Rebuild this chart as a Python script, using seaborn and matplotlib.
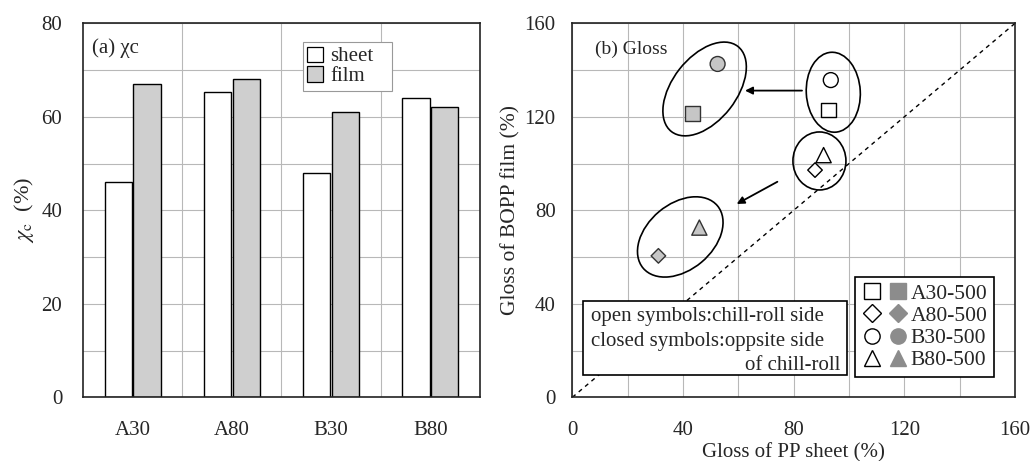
import matplotlib
matplotlib.use('Agg')
import matplotlib.pyplot as plt
from matplotlib.lines import Line2D
from matplotlib.patches import Ellipse, Rectangle, Patch
from matplotlib.transforms import IdentityTransform
from matplotlib.legend_handler import HandlerTuple
import pandas as pd
import seaborn as sns

# (a) crystallinity of sheet and film
grades = ['A30', 'A80', 'B30', 'B80']
sheet_xc = [46.1, 65.2, 48.0, 64.1]
film_xc = [67.0, 68.1, 61.1, 62.1]

# (b) gloss, open = chill-roll side, closed = opposite side
samples = ['A30-500', 'A80-500', 'B30-500', 'B80-500']
sheet_gloss_open = [92.5, 87.7, 93.4, 90.8]
film_gloss_open = [122.9, 97.2, 135.7, 103.6]
sheet_gloss_closed = [43.5, 31.1, 52.5, 45.9]
film_gloss_closed = [121.5, 60.5, 142.6, 72.6]

sns.set_style('white')
plt.rcParams['font.family'] = ['Liberation Serif', 'DejaVu Serif']
plt.rcParams['mathtext.fontset'] = 'stix'

grid_color = '#b8b8b8'
fs = 15

fig = plt.figure(figsize=(10.32, 4.61), dpi=100)
ax1 = fig.add_axes([0.0804, 0.1382, 0.3847, 0.8113])
ax2 = fig.add_axes([0.5546, 0.1382, 0.4290, 0.8113])

# ---- left panel: bars
df_bar = pd.DataFrame({
    'grade': grades * 2,
    'type': ['sheet'] * len(grades) + ['film'] * len(grades),
    'xc': sheet_xc + film_xc,
})
sns.barplot(data=df_bar, x='grade', y='xc', hue='type',
            palette=['white', '#cfcfcf'], saturation=1,
            width=0.58, gap=0.05, edgecolor='black', linewidth=1.0,
            ax=ax1, zorder=2)

ax1.set_xlim(-0.5, 3.5)
ax1.set_ylim(0, 80)
ax1.set_yticks(range(0, 81, 20))
ax1.set_yticks(range(10, 80, 20), minor=True)
ax1.set_xticks([0.5, 1.5, 2.5], minor=True)
ax1.xaxis.grid(False, which='major')
ax1.xaxis.grid(True, which='minor', color=grid_color, lw=0.8)
ax1.yaxis.grid(True, which='both', color=grid_color, lw=0.8)
ax1.set_axisbelow(True)
ax1.tick_params(axis='both', which='both', length=0, labelsize=fs)
ax1.tick_params(axis='y', pad=15)
ax1.tick_params(axis='x', pad=17)
ax1.set_xlabel('')
ax1.set_ylabel(r'$\chi_{\mathrm{c}}$  (%)', fontsize=fs + 1, labelpad=4)
ax1.text(0.022, 0.934, '(a) χc', transform=ax1.transAxes, fontsize=fs,
         ha='left', va='center')

# legend box stretched to the width of the original one
handles = [Patch(facecolor='white', edgecolor='black', lw=0.9),
           Patch(facecolor='#cfcfcf', edgecolor='black', lw=0.9)]
leg1 = ax1.legend(handles, ['sheet', 'film'], loc='upper left',
                  bbox_to_anchor=(0.554, 0.824, 0.224, 0.126), mode='expand',
                  borderaxespad=0, fontsize=fs,
                  handlelength=0.75, handleheight=0.75, handletextpad=0.35,
                  labelspacing=0.0, borderpad=0.22, fancybox=False,
                  framealpha=1)
leg1.get_frame().set_edgecolor('#999999')
leg1.get_frame().set_linewidth(0.8)

# ---- right panel: scatter
markers = dict(zip(samples, ['s', 'D', 'o', '^']))
marker_sizes = dict(zip(samples, [110, 55, 115, 120]))
df_open = pd.DataFrame({'sample': samples, 'sheet': sheet_gloss_open,
                        'film': film_gloss_open})
df_closed = pd.DataFrame({'sample': samples, 'sheet': sheet_gloss_closed,
                          'film': film_gloss_closed})

ax2.set_xlim(0, 160)
ax2.set_ylim(0, 160)
ax2.plot([0, 160], [0, 160], ls=(0, (3, 3)), color='black', lw=1.0, zorder=2)

sns.scatterplot(data=df_open, x='sheet', y='film', style='sample',
                markers=markers, size='sample', sizes=marker_sizes,
                color='white', edgecolor='black',
                linewidth=1.0, legend=False, ax=ax2, zorder=3)
sns.scatterplot(data=df_closed, x='sheet', y='film', style='sample',
                markers=markers, size='sample', sizes=marker_sizes,
                color='#c6c6c6', edgecolor='#333333',
                linewidth=1.0, legend=False, ax=ax2, zorder=3)

ax2.set_xticks(range(0, 161, 40))
ax2.set_yticks(range(0, 161, 40))
ax2.set_xticks(range(20, 160, 40), minor=True)
ax2.set_yticks(range(20, 160, 40), minor=True)
ax2.grid(True, which='both', color=grid_color, lw=0.8)
ax2.set_axisbelow(True)
ax2.tick_params(axis='both', which='both', length=0, labelsize=fs)
ax2.tick_params(axis='y', pad=12)
ax2.tick_params(axis='x', pad=17)
ax2.set_xlabel('Gloss of PP sheet (%)', fontsize=fs, labelpad=2)
ax2.set_ylabel('Gloss of BOPP film (%)', fontsize=fs + 0.5, labelpad=3)
ax2.text(8.2, 149, '(b) Gloss', fontsize=14, ha='left', va='center')

# arrows from open to closed groups
arrow = dict(arrowstyle='-|>', color='black', lw=1.3, mutation_scale=11,
             shrinkA=0, shrinkB=0)
ax2.annotate('', xy=(62.4, 131.2), xytext=(83.0, 131.2), arrowprops=arrow)
ax2.annotate('', xy=(59.4, 82.7), xytext=(74.1, 92.2), arrowprops=arrow)


# ellipses drawn in pixel units around data-space centres
def ring(ax, cx, cy, w, h, angle):
    px, py = ax.transData.transform((cx, cy))
    fig.add_artist(Ellipse((px, py), w, h, angle=angle, fill=False,
                           edgecolor='black', lw=1.2,
                           transform=IdentityTransform()))


ring(ax2, 47.8, 131.9, 108, 64, 52)
ring(ax2, 94.3, 130.5, 54, 80, 3)
ring(ax2, 89.3, 101.1, 53, 58, 0)
ring(ax2, 39.0, 68.6, 97, 66, 40)

# note box
ax2.add_patch(Rectangle((0.023, 0.0596), 0.5964, 0.1979, transform=ax2.transAxes,
                        facecolor='white', edgecolor='black', lw=1.2, zorder=4))
note_kw = dict(transform=ax2.transAxes, fontsize=fs, va='center', zorder=5)
ax2.text(0.0416, 0.2155, 'open symbols:chill-roll side', ha='left', **note_kw)
ax2.text(0.0416, 0.1505, 'closed symbols:oppsite side', ha='left', **note_kw)
ax2.text(0.6063, 0.0845, 'of chill-roll', ha='right', **note_kw)

# legend with open + closed symbol pairs
pairs = []
for s in samples:
    m = markers[s]
    ms = 9 if m == 'D' else 11
    h_open = Line2D([], [], ls='none', marker=m, markersize=ms,
                    markerfacecolor='white', markeredgecolor='black', mew=1.0)
    h_closed = Line2D([], [], ls='none', marker=m, markersize=ms,
                      markerfacecolor='#8c8c8c', markeredgecolor='#8c8c8c')
    pairs.append((h_open, h_closed))
leg2 = ax2.legend(pairs, samples, handler_map={tuple: HandlerTuple(ndivide=None, pad=0.2)},
                  loc='lower right', bbox_to_anchor=(0.953, 0.055), borderaxespad=0,
                  fontsize=fs + 0.5, handlelength=2.2, handletextpad=0.1,
                  labelspacing=0.1, borderpad=0.3, fancybox=False, framealpha=1)
leg2.get_frame().set_edgecolor('black')
leg2.get_frame().set_linewidth(1.2)
leg2.set_zorder(5)

for ax in (ax1, ax2):
    for sp in ax.spines.values():
        sp.set_color('#222222')
        sp.set_linewidth(1.2)

fig.savefig('out.png', dpi=100)
